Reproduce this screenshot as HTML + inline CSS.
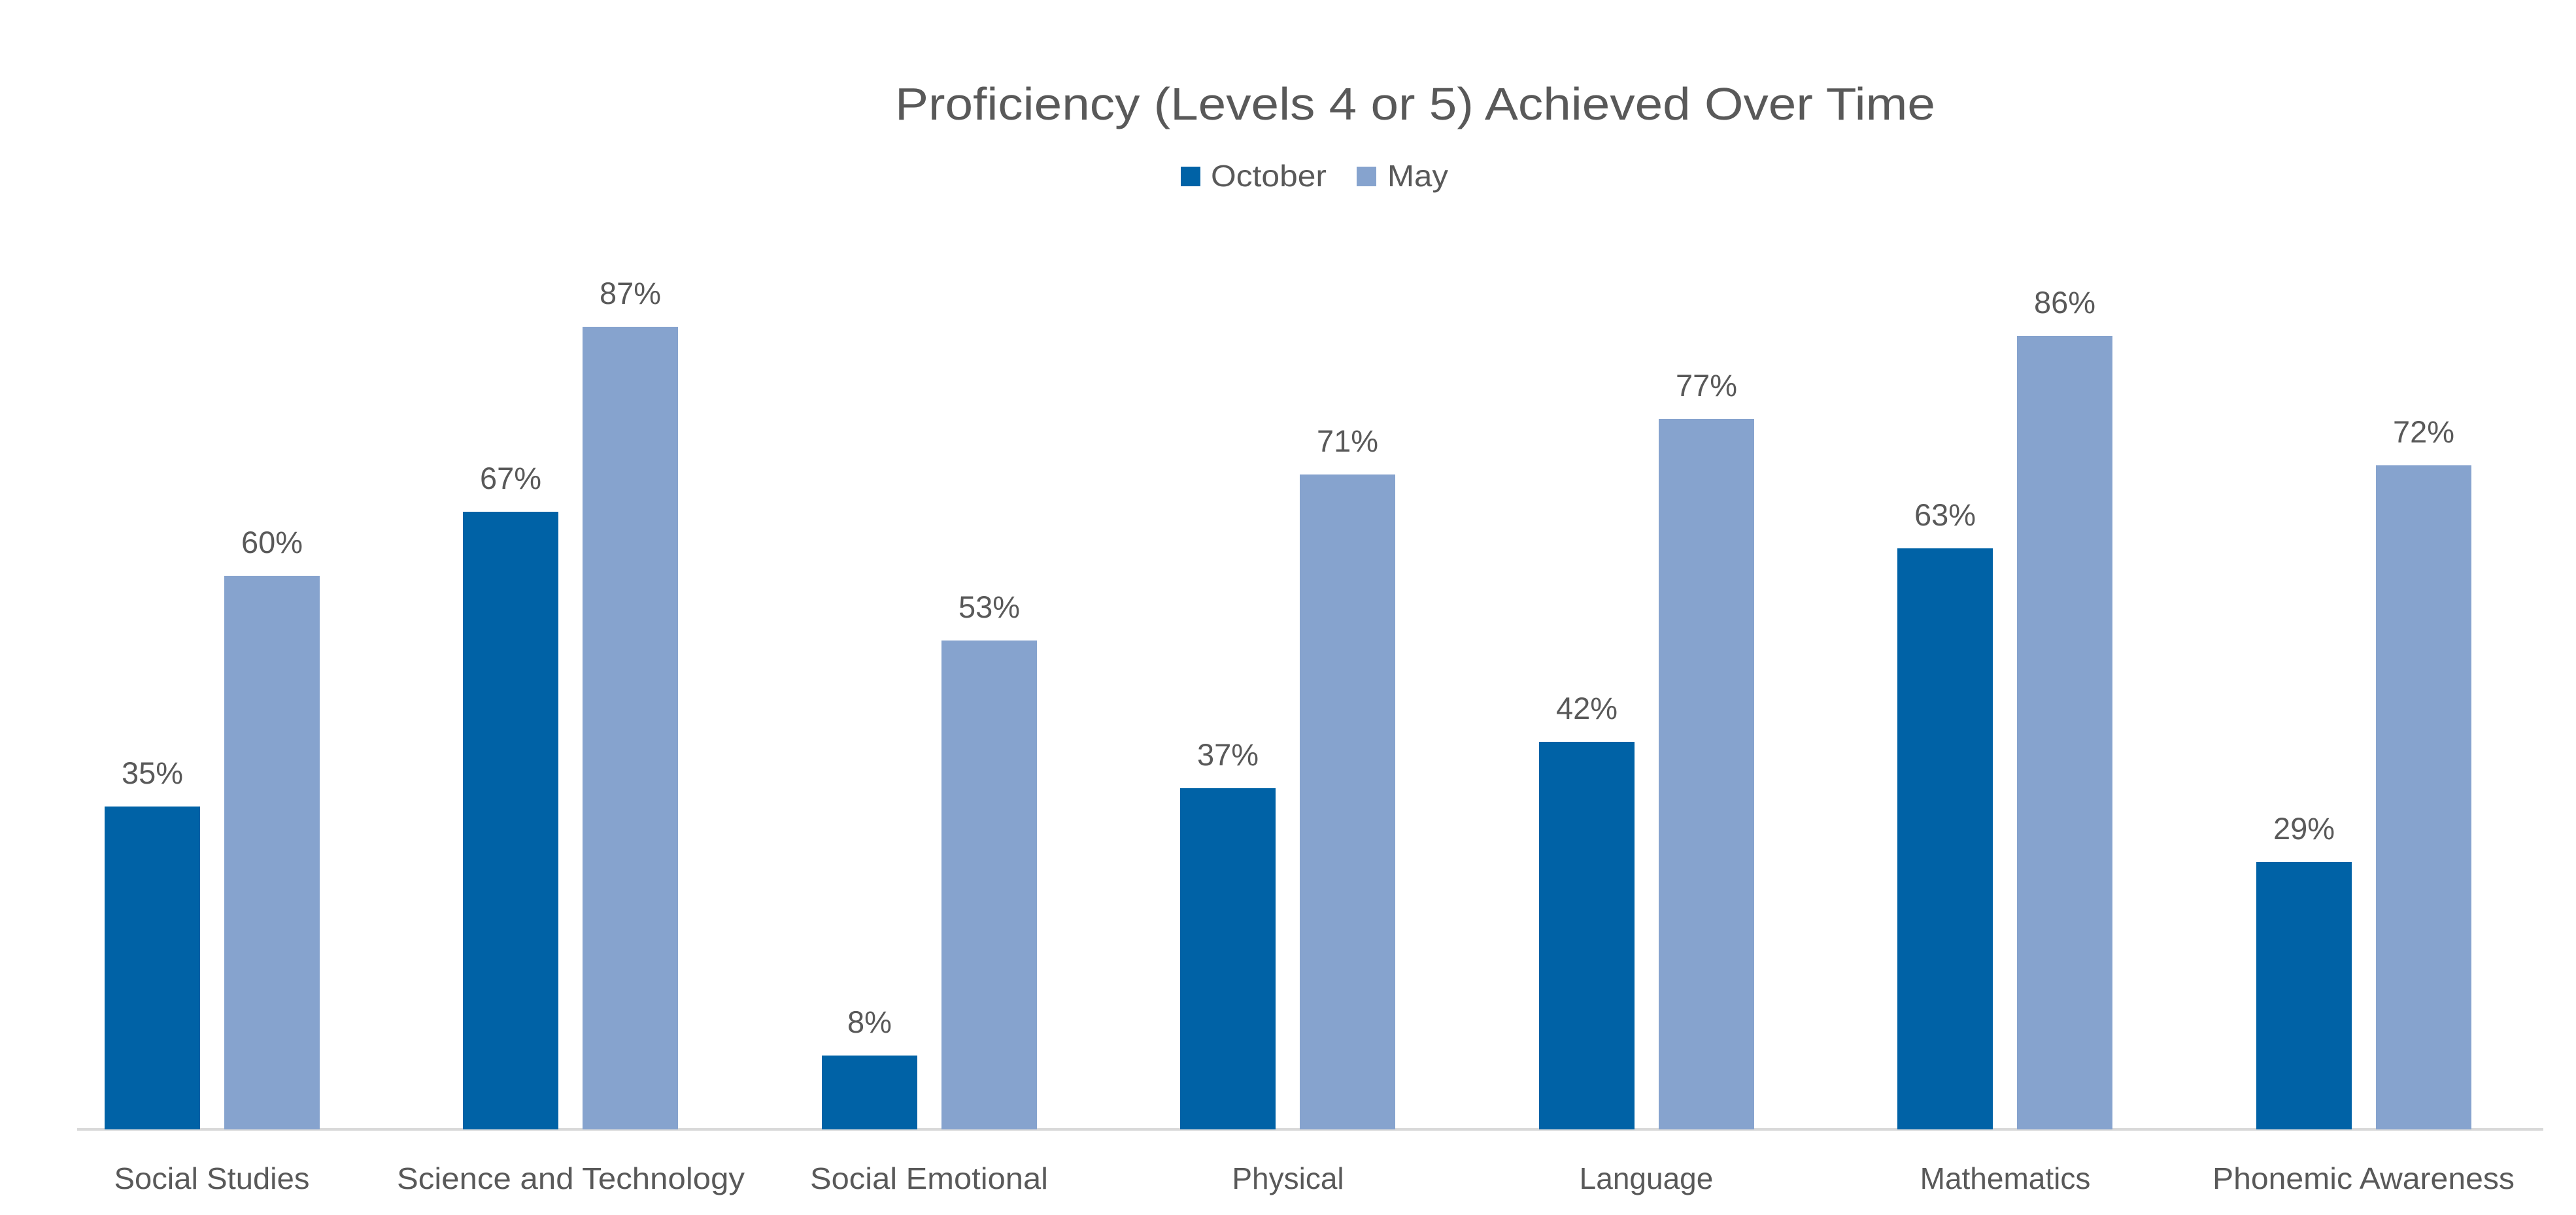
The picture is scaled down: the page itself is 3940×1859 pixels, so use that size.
<!DOCTYPE html>
<html><head><meta charset="utf-8"><style>
html,body{margin:0;padding:0;background:#fff;}
svg{display:block;}
text{font-family:"Liberation Sans",sans-serif;fill:#595959;}
</style></head><body>
<svg width="3940" height="1859" viewBox="0 0 3940 1859" xmlns="http://www.w3.org/2000/svg">
<rect width="3940" height="1859" fill="#fff"/>
<text x="1369" y="183" font-size="70" textLength="1591" lengthAdjust="spacingAndGlyphs">Proficiency (Levels 4 or 5) Achieved Over Time</text>
<rect x="1806" y="255" width="30" height="30" fill="#0062A6"/>
<text x="1852" y="285" font-size="46" textLength="177" lengthAdjust="spacingAndGlyphs">October</text>
<rect x="2075" y="255" width="30" height="30" fill="#86A3CE"/>
<text x="2122" y="285" font-size="46" textLength="93" lengthAdjust="spacingAndGlyphs">May</text>
<line x1="118" y1="1728" x2="3890" y2="1728" stroke="#d9d9d9" stroke-width="4"/>
<g font-size="47" text-anchor="middle">
<rect x="160" y="1234" width="146" height="494" fill="#0062A6"/><text x="233" y="1199">35%</text>
<rect x="343" y="881" width="146" height="847" fill="#86A3CE"/><text x="416" y="846">60%</text>
<rect x="708" y="783" width="146" height="945" fill="#0062A6"/><text x="781" y="748">67%</text>
<rect x="891" y="500" width="146" height="1228" fill="#86A3CE"/><text x="964" y="465">87%</text>
<rect x="1257" y="1615" width="146" height="113" fill="#0062A6"/><text x="1330" y="1580">8%</text>
<rect x="1440" y="980" width="146" height="748" fill="#86A3CE"/><text x="1513" y="945">53%</text>
<rect x="1805" y="1206" width="146" height="522" fill="#0062A6"/><text x="1878" y="1171">37%</text>
<rect x="1988" y="726" width="146" height="1002" fill="#86A3CE"/><text x="2061" y="691">71%</text>
<rect x="2354" y="1135" width="146" height="593" fill="#0062A6"/><text x="2427" y="1100">42%</text>
<rect x="2537" y="641" width="146" height="1087" fill="#86A3CE"/><text x="2610" y="606">77%</text>
<rect x="2902" y="839" width="146" height="889" fill="#0062A6"/><text x="2975" y="804">63%</text>
<rect x="3085" y="514" width="146" height="1214" fill="#86A3CE"/><text x="3158" y="479">86%</text>
<rect x="3451" y="1319" width="146" height="409" fill="#0062A6"/><text x="3524" y="1284">29%</text>
<rect x="3634" y="712" width="146" height="1016" fill="#86A3CE"/><text x="3707" y="677">72%</text>
</g>
<g font-size="46" text-anchor="middle">
<text x="324" y="1819" textLength="299" lengthAdjust="spacingAndGlyphs">Social Studies</text>
<text x="873" y="1819" textLength="532" lengthAdjust="spacingAndGlyphs">Science and Technology</text>
<text x="1421" y="1819" textLength="364" lengthAdjust="spacingAndGlyphs">Social Emotional</text>
<text x="1970" y="1819">Physical</text>
<text x="2518" y="1819">Language</text>
<text x="3067" y="1819">Mathematics</text>
<text x="3615" y="1819" textLength="462" lengthAdjust="spacingAndGlyphs">Phonemic Awareness</text>
</g>
</svg>
</body></html>
